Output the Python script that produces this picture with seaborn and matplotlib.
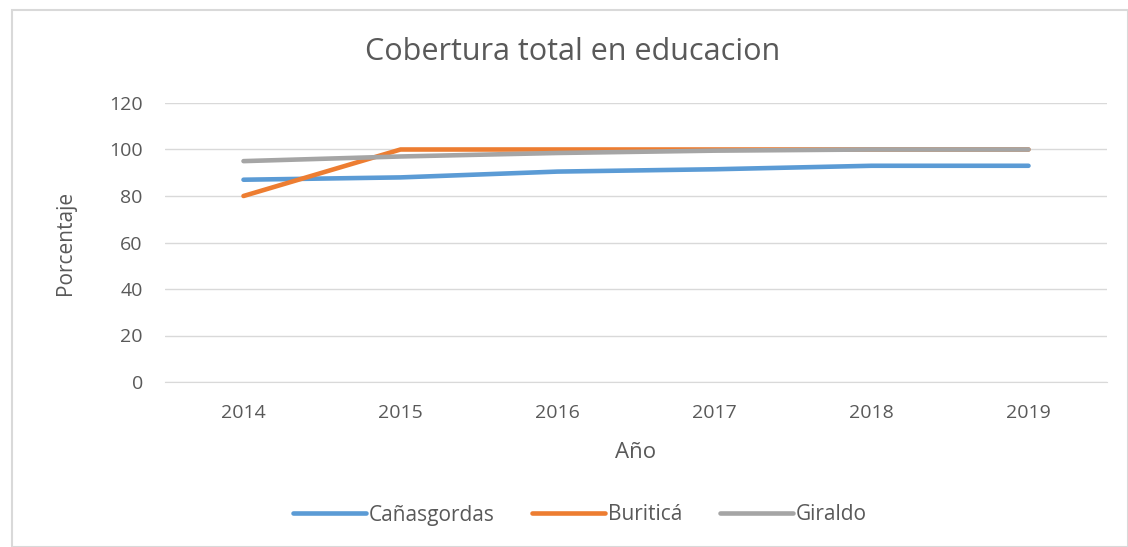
import pandas as pd
import numpy as np
import seaborn as sns
import matplotlib.pyplot as plt
from matplotlib.patches import Rectangle

years = ["2014", "2015", "2016", "2017", "2018", "2019"]
canasgordas = [87, 88, 90.5, 91.5, 93, 93]
buritica = [80, 100, 100, 100, 100, 100]
giraldo = [95, 97, 98.5, 99.5, 100, 100]
series_names = ["Cañasgordas", "Buriticá", "Giraldo"]
colors = ["#5b9bd5", "#ed7d31", "#a5a5a5"]

# long format for seaborn
df = pd.DataFrame({
    "Año": years * 3,
    "Porcentaje": canasgordas + buritica + giraldo,
    "Municipio": [n for n in series_names for _ in years],
})
df["pos"] = df["Año"].map({y: i for i, y in enumerate(years)})

sns.set_style("white")
plt.rcParams["font.family"] = ["Open Sans", "DejaVu Sans"]
txt = "#595959"

fig = plt.figure(figsize=(11.28, 5.47), dpi=100)
ax = fig.add_axes([165 / 1128, 1 - 382 / 547, 942 / 1128, 279 / 547])

sns.lineplot(data=df, x="pos", y="Porcentaje", hue="Municipio",
             palette=dict(zip(series_names, colors)), linewidth=3.3,
             solid_capstyle="round", ax=ax)

ax.set_xlim(-0.5, len(years) - 0.5)
ax.set_ylim(0, 120)
ax.set_yticks(np.arange(0, 121, 20))
ax.set_xticks(range(len(years)))
ax.set_xticklabels(years)
ax.tick_params(axis="both", colors=txt, labelsize=14, length=0)
ax.tick_params(axis="x", pad=16)
ax.tick_params(axis="y", pad=16)
ax.yaxis.grid(True, color="#d9d9d9", linewidth=1)
for s in ["top", "right", "left"]:
    ax.spines[s].set_visible(False)
ax.spines["bottom"].set_color("#d9d9d9")
ax.set_xlabel("Año", fontsize=16, color=txt, labelpad=14)
ax.set_ylabel("Porcentaje", fontsize=15, color=txt, labelpad=24)

fig.text(573 / 1128, 1 - 52 / 547, "Cobertura total en educacion",
         fontsize=22, color=txt, ha="center", va="center")

handles, labels = ax.get_legend_handles_labels()
fig.legend(handles, labels, loc="center", bbox_to_anchor=(580 / 1128, 1 - 515 / 547),
           ncol=3, frameon=False, fontsize=15, handlelength=3.5,
           handletextpad=0.15, columnspacing=1.8, labelcolor=txt)
ax.get_legend().remove()

fig.patches.append(Rectangle((12 / 1128, 0), 1 - 12 / 1128, 1 - 10 / 547,
                             transform=fig.transFigure, fill=False,
                             edgecolor="#d9d9d9", linewidth=1.5))

fig.savefig("out.png", dpi=100)
